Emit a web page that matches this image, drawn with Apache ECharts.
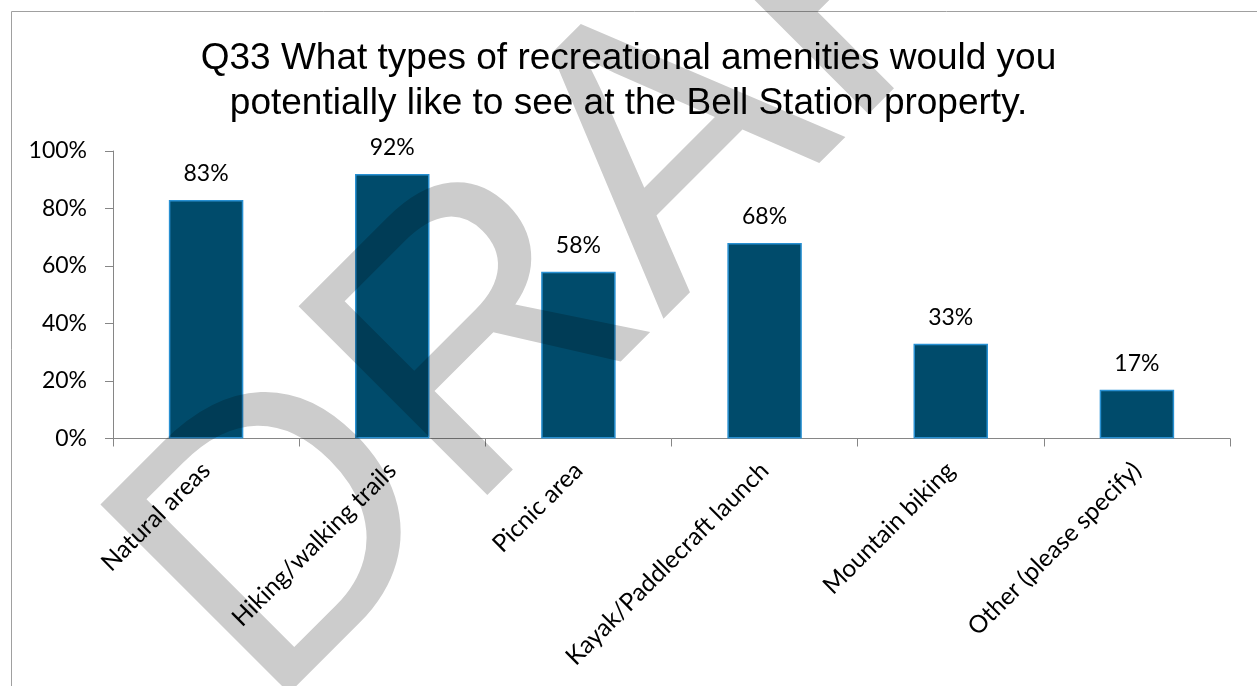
<!DOCTYPE html>
<html>
<head>
<meta charset="utf-8">
<script src="https://cdn.jsdelivr.net/npm/echarts@6/dist/echarts.min.js"></script>
<style>
html,body{margin:0;padding:0;background:#fff;}
#wrap{position:relative;width:1257px;height:686px;}
#c,#w{position:absolute;left:0;top:0;width:1257px;height:686px;}
#w{mix-blend-mode:multiply;pointer-events:none;}
</style>
</head>
<body>
<div id="wrap"><div id="c"></div><div id="w"></div></div>
<script>
const titleText = 'Q33 What types of recreational amenities would you\npotentially like to see at the Bell Station property.';
const categories = ['Natural areas', 'Hiking/walking trails', 'Picnic area', 'Kayak/Paddlecraft launch', 'Mountain biking', 'Other (please specify)'];
const values = [83, 92, 58, 68, 33, 17];
const yTicks = [0, 20, 40, 60, 80, 100];
const watermarkText = 'DRAFT';

const chart = echarts.init(document.getElementById('c'), null, {renderer: 'canvas'});
const labelFont = 'Lato';
chart.setOption({
  animation: false,
  backgroundColor: '#ffffff',
  title: {
    text: titleText,
    left: 'center',
    top: 31,
    textStyle: {fontFamily: 'Liberation Sans', fontSize: 37, fontWeight: 'normal', color: '#000', lineHeight: 45}
  },
  grid: {left: 113, right: 27, top: 151, bottom: 247.5, containLabel: false},
  xAxis: {
    type: 'category',
    data: categories,
    axisLine: {lineStyle: {color: '#868686', width: 1}},
    axisTick: {show: true, alignWithLabel: false, length: 8, lineStyle: {color: '#868686'}},
    axisLabel: {rotate: 45, margin: 28, fontFamily: labelFont, fontSize: 24.5, color: '#000', interval: 0}
  },
  yAxis: {
    type: 'value',
    min: yTicks[0],
    max: yTicks[yTicks.length - 1],
    interval: yTicks[1] - yTicks[0],
    splitLine: {show: false},
    axisLine: {show: true, lineStyle: {color: '#868686', width: 1}},
    axisTick: {show: true, length: 8, lineStyle: {color: '#868686'}},
    axisLabel: {margin: 26, fontFamily: labelFont, fontSize: 23, color: '#000', formatter: '{value}%'}
  },
  series: [{
    type: 'bar',
    data: values,
    barCategoryGap: '60%',
    itemStyle: {color: '#004b6b', borderColor: '#2890d2', borderWidth: 1.5},
    label: {show: true, position: 'top', distance: 15, formatter: '{c}%', fontFamily: labelFont, fontSize: 23, color: '#000'}
  }],
  graphic: [
    {type: 'rect', z: 100, silent: true, shape: {x: 11.5, y: 11.5, width: 1400, height: 800}, style: {fill: 'none', stroke: '#a0a0a0', lineWidth: 1}}
  ]
});

const wm = echarts.init(document.getElementById('w'), null, {renderer: 'canvas'});
wm.setOption({
  animation: false,
  backgroundColor: 'transparent',
  graphic: [
    {type: 'text', silent: true, x: 191, y: 640, rotation: 45 * Math.PI / 180,
     style: {text: watermarkText, font: '388px "Liberation Sans"', textAlign: 'left', textVerticalAlign: 'middle', fill: '#cccccc'}}
  ]
});
</script>
</body>
</html>
